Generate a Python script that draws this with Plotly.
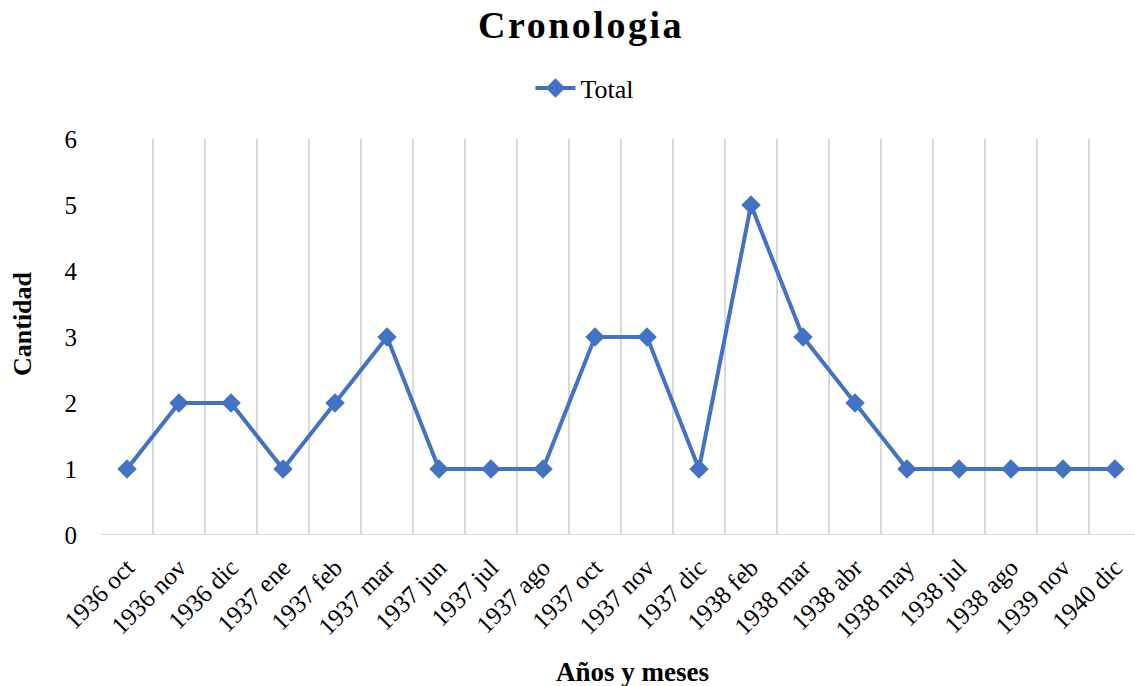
import plotly.graph_objects as go

categories = ["1936 oct", "1936 nov", "1936 dic", "1937 ene", "1937 feb", "1937 mar",
              "1937 jun", "1937 jul", "1937 ago", "1937 oct", "1937 nov", "1937 dic",
              "1938 feb", "1938 mar", "1938 abr", "1938 may", "1938 jul", "1938 ago",
              "1939 nov", "1940 dic"]
total = [1, 2, 2, 1, 2, 3, 1, 1, 1, 3, 3, 1, 5, 3, 2, 1, 1, 1, 1, 1]
y_ticks = [0, 1, 2, 3, 4, 5, 6]

FONT = "Liberation Serif, Times New Roman, serif"
BLUE = "#4472C4"
GRID = "#D9D9D9"

idx = list(range(len(categories)))
bounds = [i - 0.5 for i in range(len(categories) + 1)]

fig = go.Figure()
fig.add_trace(go.Scatter(
    x=idx, y=total, mode="lines+markers", name="Total",
    line=dict(color=BLUE, width=4),
    marker=dict(symbol="diamond", size=15, color=BLUE),
))

fig.update_layout(
    width=1135, height=686,
    margin=dict(l=101, r=0, t=139, b=151),
    paper_bgcolor="white", plot_bgcolor="white",
    font=dict(family=FONT, color="#000000", size=25),
    title=dict(text='<span style="letter-spacing:2.5px"><b>Cronologia</b></span>',
               x=581 / 1135, xanchor="center", y=1 - 25 / 686, yanchor="middle",
               font=dict(size=38, family=FONT)),
    showlegend=True,
    legend=dict(orientation="h", x=0.468, xanchor="center", y=(535 - 88) / 396, yanchor="middle",
                font=dict(size=26, family=FONT), itemwidth=40, bgcolor="rgba(0,0,0,0)"),
    xaxis=dict(
        range=[-0.5, -0.5 + 1034 / 52], tickmode="array", tickvals=idx, ticktext=categories,
        tickangle=-45, showgrid=False, zeroline=False, showline=False,
        ticks="", ticklabelstandoff=12, tickfont=dict(size=25, family=FONT),
        minor=dict(tickvals=bounds, showgrid=True, gridcolor=GRID, gridwidth=2, ticks=""),
        automargin=False, fixedrange=True,
    ),
    yaxis=dict(
        range=[0, 6], tickvals=y_ticks, showgrid=False, zeroline=False,
        showline=False, ticks="", ticklabelstandoff=23,
        tickfont=dict(size=25, family=FONT), automargin=False, fixedrange=True,
    ),
    shapes=[dict(type="line", xref="paper", yref="y", x0=0, x1=1, y0=0, y1=0,
                 line=dict(color=GRID, width=2), layer="below")],
    annotations=[
        dict(text="<b>Años y meses</b>", xref="paper", yref="paper", x=(632 - 101) / 1034, y=0,
             xanchor="center", yanchor="middle", yshift=-137, showarrow=False,
             font=dict(size=27, family=FONT)),
        dict(text="<b>Cantidad</b>", xref="paper", yref="paper", x=0, y=(535 - 324) / 396,
             xanchor="center", yanchor="middle", xshift=-79, textangle=-90,
             showarrow=False, font=dict(size=26, family=FONT)),
    ],
)

fig.write_html("out.html", config={"displayModeBar": False},
               post_script="document.body.style.margin='0px';")
